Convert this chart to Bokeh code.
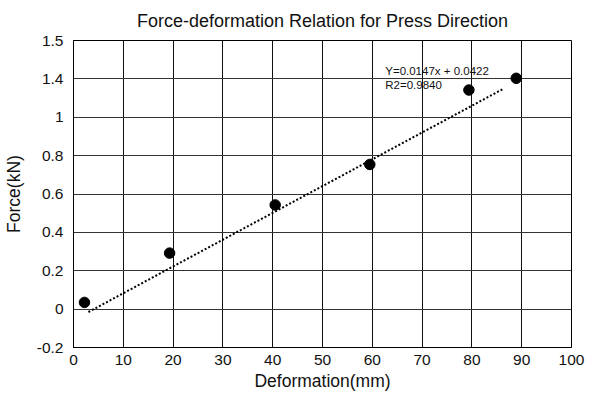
from bokeh.plotting import figure
from bokeh.models import FixedTicker, Range1d, ColumnDataSource
from bokeh.core.properties import value
from bokeh.embed import file_html
from bokeh.resources import INLINE

# Data (in the chart's own axis scale)
deformation = [2.2, 19.3, 40.5, 59.5, 79.4, 88.9]
force = [0.035, 0.292, 0.543, 0.754, 1.142, 1.203]

# dotted trend line end points
trend_x = [3.0, 86.3]
trend_y = [-0.015, 1.148]

# equation annotation
eq_x = [62.6, 62.6]
eq_y = [1.24, 1.17]
eq_text = ["Y=0.0147x + 0.0422", "R2=0.9840"]

x_ticks = [0, 10, 20, 30, 40, 50, 60, 70, 80, 90, 100]
y_ticks = [-0.2, 0.0, 0.2, 0.4, 0.6, 0.8, 1.0, 1.2, 1.4]
y_tick_labels = ["-0.2", "0", "0.2", "0.4", "0.6", "0.8", "1", "1.4", "1.5"]

FONT = "Liberation Sans"

p = figure(width=599, height=396, output_backend="svg", toolbar_location=None,
           x_range=Range1d(0, 100), y_range=Range1d(-0.2, 1.4),
           title="Force-deformation Relation for Press Direction",
           min_border_left=73, min_border_right=28, min_border_top=39, min_border_bottom=49)

p.title.align = "center"
p.title.vertical_align = "middle"
p.title.text_font = FONT
p.title.text_font_size = "18px"
p.title.text_font_style = "normal"
p.title.text_color = "#111111"
p.title.standoff = 18

p.outline_line_color = "black"
p.outline_line_alpha = 1.0
p.outline_line_width = 1

p.xaxis.ticker = FixedTicker(ticks=x_ticks)
p.yaxis.ticker = FixedTicker(ticks=y_ticks)
p.yaxis.major_label_overrides = {t: l for t, l in zip(y_ticks, y_tick_labels)}

for ax in (p.xaxis, p.yaxis):
    ax.major_tick_out = 0
    ax.major_tick_in = 0
    ax.minor_tick_out = 0
    ax.minor_tick_in = 0
    ax.axis_line_color = "black"
    ax.major_label_text_font = FONT
    ax.major_label_text_font_size = "15.5px"
    ax.major_label_text_color = "#111111"
    ax.axis_label_text_font = FONT
    ax.axis_label_text_font_size = "17.5px"
    ax.axis_label_text_font_style = "normal"
    ax.axis_label_text_color = "#111111"

p.xaxis.axis_label = "Deformation(mm)"
p.yaxis.axis_label = "Force(kN)"
p.xaxis.major_label_standoff = 7
p.yaxis.major_label_standoff = 10
p.xaxis.axis_label_standoff = 3
p.yaxis.axis_label_standoff = 10

p.xgrid.grid_line_color = "#111111"
p.ygrid.grid_line_color = "#333333"
p.xgrid.grid_line_width = 1
p.ygrid.grid_line_width = 1

p.line(trend_x, trend_y, line_color="black", line_width=2, line_dash="2 2")
p.scatter(deformation, force, size=10.5, marker="circle", fill_color="black", line_color="black")

src = ColumnDataSource(dict(x=eq_x, y=eq_y, t=eq_text))
p.text(x="x", y="y", text="t", source=src, text_font=value(FONT), text_font_size="11.5px",
       text_baseline="middle", text_align="left", text_color="#111111")

open("out.html", "w").write(file_html(p, INLINE))
